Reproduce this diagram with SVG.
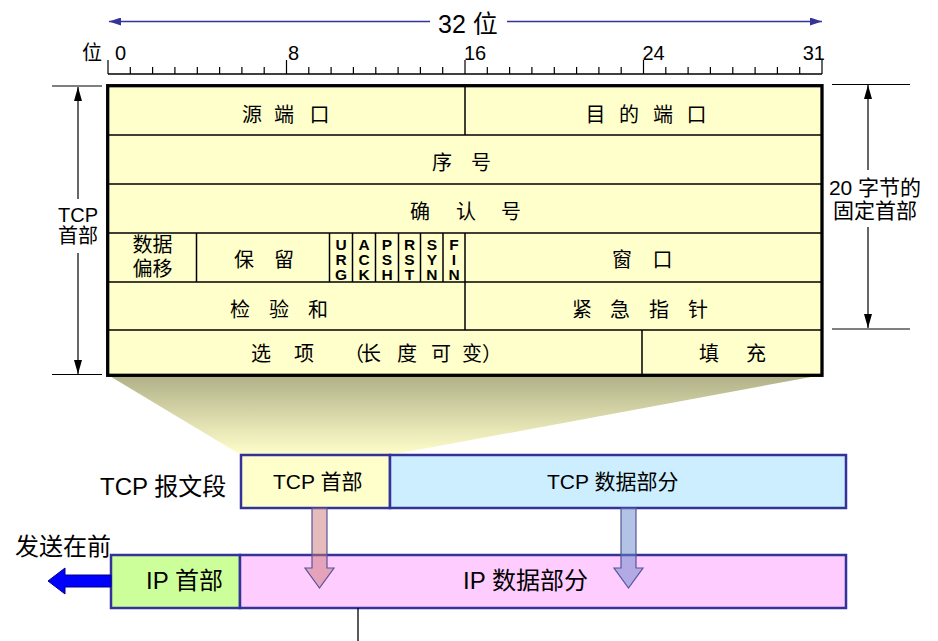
<svg xmlns="http://www.w3.org/2000/svg" width="938" height="641" viewBox="0 0 938 641">
<style>
  text { font-family: "Liberation Sans", "Noto Sans CJK SC", sans-serif; fill: #000; }
  .cell { font-size: 20px; }
  .flag { font-size: 15.5px; font-weight: bold; writing-mode: vertical-rl; text-orientation: upright; letter-spacing: -2px; }
  .ruler { font-size: 20px; }
  .dim { font-size: 20px; text-anchor: middle; }
  .thin { stroke: #000; stroke-width: 1.5; fill: none; }
  .box { stroke: #333399; stroke-width: 2.5; }
  .blue { stroke: #333399; stroke-width: 1.5; fill: none; }
  .big { font-size: 24px; }
</style>
<defs>
  <linearGradient id="fan" x1="0" y1="0" x2="0" y2="1">
    <stop offset="0" stop-color="#b0b088"/>
    <stop offset="1" stop-color="#ffffcc"/>
  </linearGradient>
  <marker id="bh" viewBox="0 0 12 8" refX="12" refY="4" markerWidth="12" markerHeight="8" markerUnits="userSpaceOnUse" orient="auto">
    <path d="M0,0 L12,4 L0,8 Z" fill="#333399"/>
  </marker>
  <marker id="kh" viewBox="0 0 14 8" refX="14" refY="4" markerWidth="14" markerHeight="8" markerUnits="userSpaceOnUse" orient="auto">
    <path d="M0,0 L14,4 L0,8 Z" fill="#000"/>
  </marker>
</defs>

<!-- expansion fan behind table -->
<polygon id="fan-shape" points="108,375 822,375 390,455 241,455" fill="url(#fan)"/>

<!-- top 32-bit arrow -->
<g id="width-label">
  <line x1="430" y1="21.5" x2="109" y2="21.5" class="blue" marker-end="url(#bh)"/>
  <line x1="507" y1="21.5" x2="822" y2="21.5" class="blue" marker-end="url(#bh)"/>
  <text x="438" y="33" style="font-size:25px">32 位</text>
</g>

<!-- ruler -->
<g id="ruler">
  <text x="82" y="60" class="ruler">位</text>
  <text x="115" y="60" class="ruler">0</text>
  <text x="288" y="60" class="ruler">8</text>
  <text x="464" y="60" class="ruler">16</text>
  <text x="642.5" y="60" class="ruler">24</text>
  <text x="825" y="60" class="ruler" text-anchor="end">31</text>
  <line x1="108" y1="74" x2="822" y2="74" stroke="#000" stroke-width="1.3"/>
  <path stroke="#000" stroke-width="1.2" fill="none" d="M108,60V74 M286.5,60V74 M465,60V74 M643.5,60V74 M822,60V74
    M130.3,67V74 M152.6,67V74 M174.9,67V74 M197.3,67V74 M219.6,67V74 M241.9,67V74 M264.2,67V74
    M308.8,67V74 M331.1,67V74 M353.4,67V74 M375.8,67V74 M398.1,67V74 M420.4,67V74 M442.7,67V74
    M487.3,67V74 M509.6,67V74 M531.9,67V74 M554.3,67V74 M576.6,67V74 M598.9,67V74 M621.2,67V74
    M665.8,67V74 M688.1,67V74 M710.4,67V74 M732.8,67V74 M755.1,67V74 M777.4,67V74 M799.7,67V74"/>
</g>

<!-- TCP header table -->
<g id="tcp-header-table">
  <rect x="107.7" y="85.7" width="714.3" height="289.6" fill="#ffffcc" stroke="#000" stroke-width="3.3"/>
  <path class="thin" d="M108,135H822 M108,184H822 M108,233H822 M108,282H822 M108,330H822
    M465,86V135 M465,233V330 M642,330V375 M196.5,233V282 M329.5,233V282
    M352.5,233V282 M375.5,233V282 M398.5,233V282 M420.5,233V282 M443,233V282"/>
</g>

<g id="src-port"><text class="cell" x="242 262 274 294 309.5" y="121.5">源 端 口</text></g>
<g id="dst-port"><text class="cell" x="585.5 605 619 639 653 673 686.5" y="121.5">目 的 端 口</text></g>
<g id="seq"><text class="cell" x="432 452 471" y="169.5">序 号</text></g>
<g id="ack"><text class="cell" x="410 430 456 476 501" y="219">确 认 号</text></g>
<g id="offset">
  <text class="cell" text-anchor="middle"><tspan x="152.5" y="251.5">数据</tspan><tspan x="152.5" y="275.5">偏移</tspan></text>
</g>
<g id="reserved"><text class="cell" x="234 254 274" y="266.5">保 留</text></g>
<g id="flags">
  <text class="flag" x="341" y="236">URG</text>
  <text class="flag" x="364" y="236">ACK</text>
  <text class="flag" x="387" y="236">PSH</text>
  <text class="flag" x="409.5" y="236">RST</text>
  <text class="flag" x="431.8" y="236">SYN</text>
  <text class="flag" x="454" y="236">FIN</text>
</g>
<g id="window"><text class="cell" x="612 632 652.5" y="266.5">窗 口</text></g>
<g id="checksum"><text class="cell" x="230 250 269 289 308" y="316.5">检 验 和</text></g>
<g id="urgent"><text class="cell" x="572 592 610 630 649 669 688" y="316.5">紧 急 指 针</text></g>
<g id="options"><text class="cell" x="251 271 294 314 344 361 381 397 417 431 451 462 482" y="360.5">选 项 （长 度 可 变）</text></g>
<g id="padding"><text class="cell" x="699 719 746" y="360.5">填 充</text></g>

<!-- dimension: TCP header -->
<g id="dim-left">
  <line x1="52" y1="86" x2="102" y2="86" stroke="#000" stroke-width="1.2"/>
  <line x1="52" y1="374.5" x2="102" y2="374.5" stroke="#000" stroke-width="1.2"/>
  <line x1="78" y1="199" x2="78" y2="87" stroke="#000" stroke-width="1.2" marker-end="url(#kh)"/>
  <line x1="78" y1="253" x2="78" y2="374" stroke="#000" stroke-width="1.2" marker-end="url(#kh)"/>
  <text class="dim"><tspan x="78" y="222">TCP</tspan><tspan x="78" y="243">首部</tspan></text>
</g>

<!-- dimension: 20-byte fixed header -->
<g id="dim-right">
  <line x1="832" y1="84.5" x2="910" y2="84.5" stroke="#000" stroke-width="1.2"/>
  <line x1="832" y1="329" x2="910" y2="329" stroke="#000" stroke-width="1.2"/>
  <line x1="868" y1="170" x2="868" y2="85" stroke="#000" stroke-width="1.2" marker-end="url(#kh)"/>
  <line x1="868" y1="227" x2="868" y2="328" stroke="#000" stroke-width="1.2" marker-end="url(#kh)"/>
  <text class="dim" style="font-size:21px"><tspan x="875" y="194.5">20 字节的</tspan><tspan x="875" y="218">固定首部</tspan></text>
</g>

<!-- TCP segment -->
<g id="tcp-segment">
  <text x="100" y="495" class="big">TCP 报文段</text>
  <rect x="241" y="455" width="149" height="53" fill="#ffffcc" class="box"/>
  <rect x="390" y="455" width="456" height="53" fill="#cceeff" class="box"/>
  <text x="273" y="489" style="font-size:21px">TCP 首部</text>
  <text x="547" y="489" style="font-size:21px">TCP 数据部分</text>
</g>

<!-- IP datagram -->
<g id="ip-datagram">
  <rect x="111" y="555" width="129" height="53" fill="#ccff99" class="box"/>
  <rect x="240" y="555" width="606" height="53" fill="#ffccff" class="box"/>
  <text x="146" y="589" class="big">IP 首部</text>
  <text x="463" y="589" class="big">IP 数据部分</text>
  <text x="15" y="555" class="big">发送在前</text>
</g>

<!-- connectors -->
<g id="connectors">
  <polygon points="312,508 327,508 327,568 334,568 319.5,588 305,568 312,568" fill="#cc7777" fill-opacity="0.5" stroke="#555599" stroke-width="1.2"/>
  <polygon points="621,508 636,508 636,568 643,568 628.5,588 614,568 621,568" fill="#6688cc" fill-opacity="0.5" stroke="#555599" stroke-width="1.2"/>
  <polygon points="48,581 65,568 65,575 111,575 111,587 65,587 65,594" fill="#0000ff" stroke="#000088" stroke-width="1"/>
  <line x1="358" y1="608" x2="358" y2="641" stroke="#000" stroke-width="1.3"/>
</g>
</svg>
